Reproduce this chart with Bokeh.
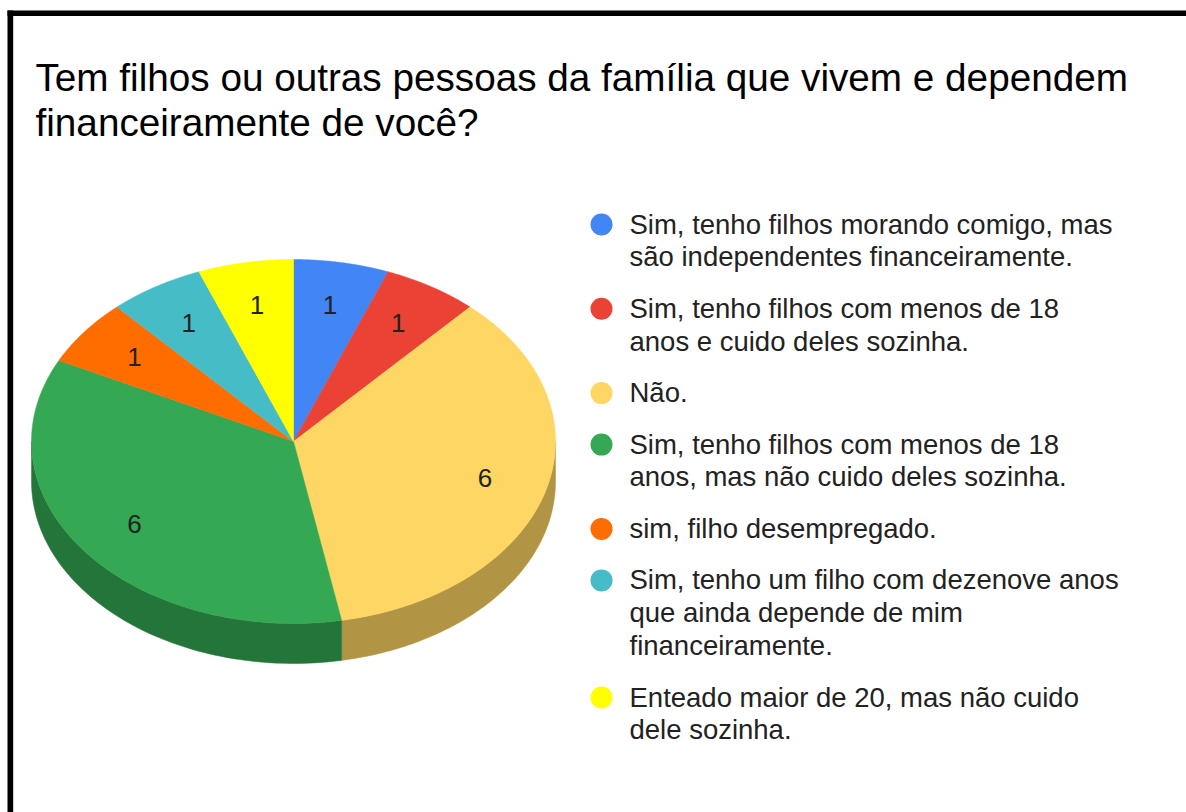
import numpy as np
from bokeh.plotting import figure
from bokeh.models import Range1d
from bokeh.core.properties import value
from bokeh.embed import file_html
from bokeh.resources import INLINE

# ---------------- data ----------------
title_lines = [
    "Tem filhos ou outras pessoas da família que vivem e dependem",
    "financeiramente de você?",
]
categories = [
    "Sim, tenho filhos morando comigo, mas\nsão independentes financeiramente.",
    "Sim, tenho filhos com menos de 18\nanos e cuido deles sozinha.",
    "Não.",
    "Sim, tenho filhos com menos de 18\nanos, mas não cuido deles sozinha.",
    "sim, filho desempregado.",
    "Sim, tenho um filho com dezenove anos\nque ainda depende de mim\nfinanceiramente.",
    "Enteado maior de 20, mas não cuido\ndele sozinha.",
]
values = [1, 1, 6, 6, 1, 1, 1]
colors = ["#4285f4", "#ea4335", "#fdd663", "#34a853", "#ff6d01", "#46bdc6", "#ffff00"]

# ---------------- layout (pixel coordinates of the page) ----------------
W, H = 1186, 812
X0, Y0 = 0, 0
CX, CY, RX, RY, DEPTH = 293.0, 441.0, 262.0, 182.0, 40.0
LABEL_F = 0.76
FONT = "Liberation Sans"


def darken(hexcol, f=0.7):
    h = hexcol.lstrip("#")
    r, g, b = (int(h[i:i + 2], 16) for i in (0, 2, 4))
    return "#%02x%02x%02x" % (int(r * f), int(g * f), int(b * f))


def ell(theta_deg):
    t = np.radians(theta_deg)
    return CX + RX * np.sin(t), CY - RY * np.cos(t)


p = figure(width=W, height=H,
           x_range=Range1d(X0, X0 + W), y_range=Range1d(Y0 + H, Y0),
           output_backend="svg", toolbar_location=None, min_border=0,
           x_axis_location=None, y_axis_location=None)
p.grid.visible = False
p.outline_line_color = None
p.background_fill_color = "white"
p.border_fill_color = "white"

# frame (black border at top and left)
p.quad(left=[7], right=[X0 + W], top=[10], bottom=[15.5], color="black", line_color=None)
p.quad(left=[7], right=[12.7], top=[10], bottom=[Y0 + H], color="black", line_color=None)

# ---------------- pie ----------------
total = float(sum(values))
bounds = np.concatenate([[0.0], np.cumsum(values)]) / total * 360.0

side_xs, side_ys, side_cols = [], [], []
top_xs, top_ys, top_cols = [], [], []
lab_x, lab_y, lab_t = [], [], []
for i, v in enumerate(values):
    a0, a1 = bounds[i], bounds[i + 1]
    # side (visible for the front half: 90..270 deg clockwise from top)
    s0, s1 = max(a0, 90.0), min(a1, 270.0)
    if s0 < s1:
        th = np.linspace(s0, s1, 80)
        ex, ey = ell(th)
        side_xs.append(list(ex) + list(ex[::-1]))
        side_ys.append(list(ey) + list((ey + DEPTH)[::-1]))
        side_cols.append(darken(colors[i]))
    th = np.linspace(a0, a1, 120)
    ex, ey = ell(th)
    top_xs.append([CX] + list(ex))
    top_ys.append([CY] + list(ey))
    top_cols.append(colors[i])
    mid = np.radians((a0 + a1) / 2)
    lab_x.append(CX + LABEL_F * RX * np.sin(mid))
    lab_y.append(CY - LABEL_F * RY * np.cos(mid) - 1)
    lab_t.append(str(v))

p.patches(xs=side_xs, ys=side_ys, fill_color=side_cols, line_color=side_cols, line_width=0.5)
p.patches(xs=top_xs, ys=top_ys, fill_color=top_cols, line_color=top_cols, line_width=0.5)
p.text(x=lab_x, y=lab_y, text=lab_t, text_font=value(FONT), text_font_size="26px",
       text_align="center", text_baseline="middle", text_color="#222222")

# ---------------- title ----------------
p.text(x=[35, 35], y=[77, 122], text=title_lines, text_font=value(FONT),
       text_font_size="38.7px", text_align="left", text_baseline="middle",
       text_color="#000000")

# ---------------- legend ----------------
LINE_H, ITEM_GAP = 32.8, 51.5
y = 224.0
dot_x, dot_y = [], []
tx, ty, tt = [], [], []
for i, cat in enumerate(categories):
    lines = cat.split("\n")
    dot_x.append(601)
    dot_y.append(y)
    for j, ln in enumerate(lines):
        tx.append(629)
        ty.append(y - 0.5 + j * LINE_H)
        tt.append(ln)
    y = y + (len(lines) - 1) * LINE_H + ITEM_GAP

p.scatter(x=dot_x, y=dot_y, size=22, marker="circle", fill_color=colors, line_color=None)
p.text(x=tx, y=ty, text=tt, text_font=value(FONT), text_font_size="27.5px",
       text_align="left", text_baseline="middle", text_color="#222222")

open("out.html", "w").write(file_html(p, INLINE))
